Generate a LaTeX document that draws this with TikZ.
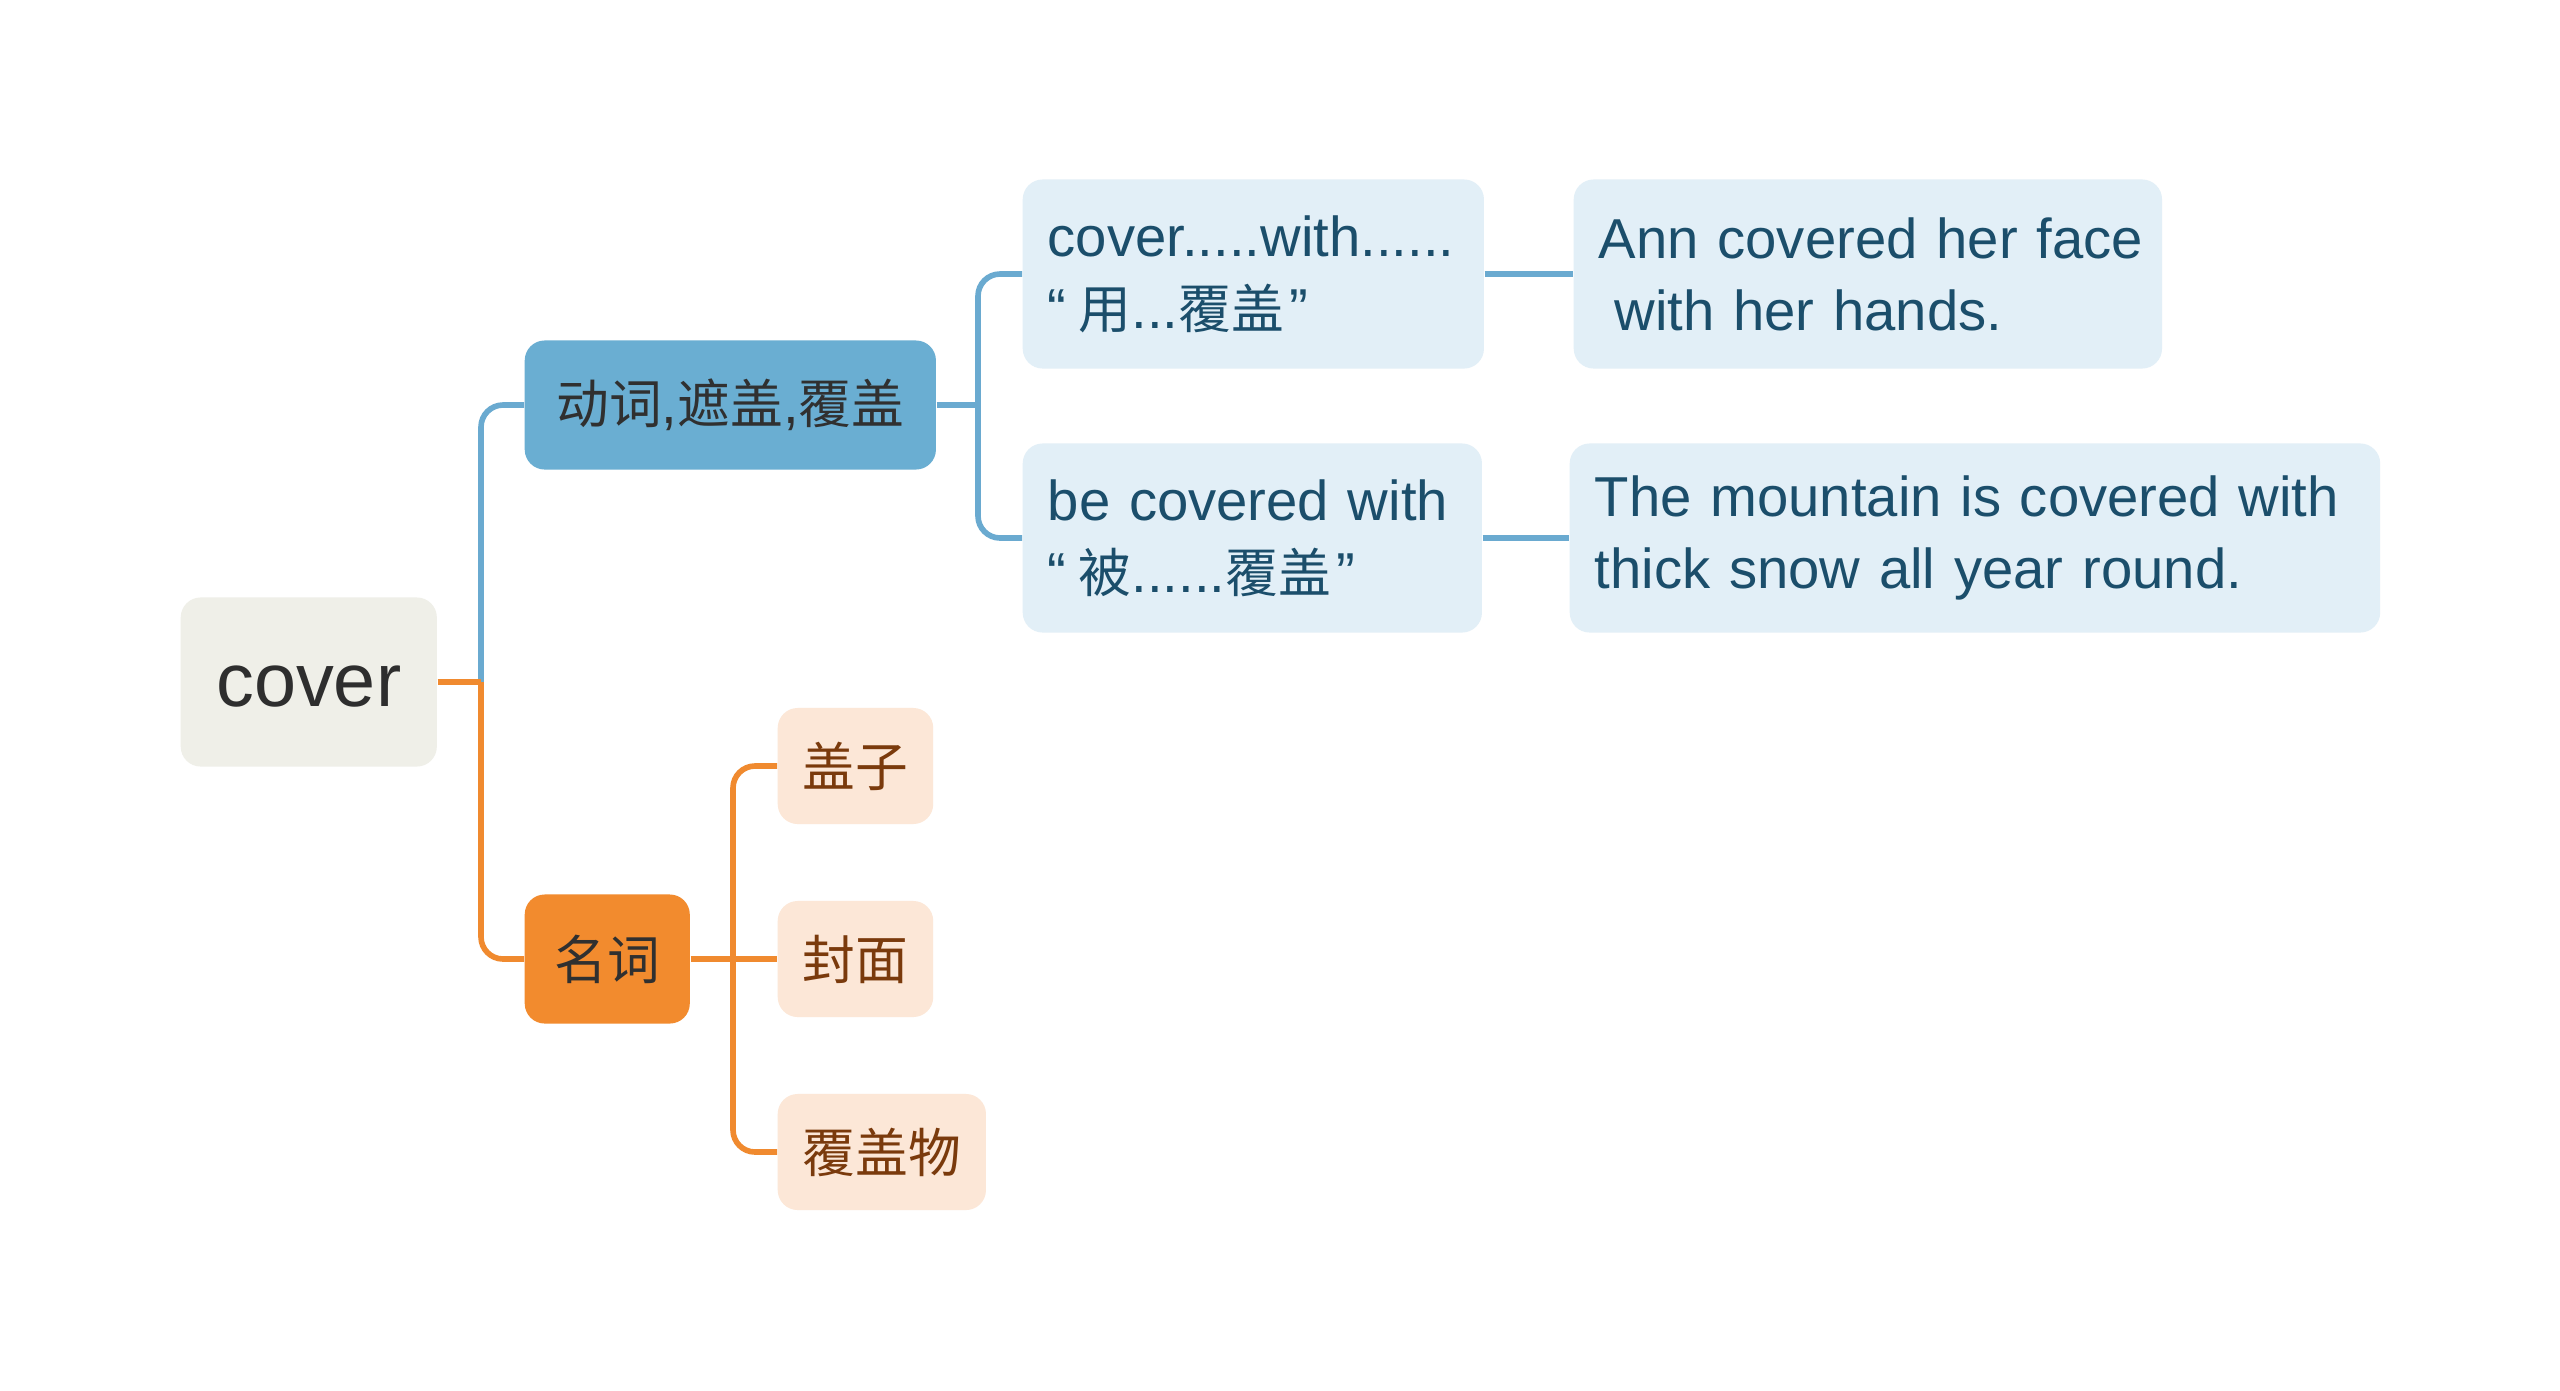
\documentclass[tikz,border=0pt]{standalone}
\usepackage{fontspec}
\setmainfont{Liberation Sans}
\newfontfamily\cjk{Noto Sans CJK SC}
\newcommand\zh[1]{{\cjk\fontsize{15}{20.5}\selectfont #1}}
\newcommand\oq{“\kern3.5pt}
\newcommand\cq{\kern1.5pt”}
\usetikzlibrary{calc,positioning}

\definecolor{rootfill}{HTML}{EFEFE8}
\definecolor{roottext}{HTML}{2E2E2E}
\definecolor{verbfill}{HTML}{6AAED2}
\definecolor{darktext}{HTML}{303030}
\definecolor{nounfill}{HTML}{F28B2E}
\definecolor{peach}{HTML}{FCE7D7}
\definecolor{leafbrown}{HTML}{7A3A0C}
\definecolor{lightblue}{HTML}{E2EFF7}
\definecolor{navy}{HTML}{1B4E6B}
\definecolor{bluel}{HTML}{6AAAD0}
\definecolor{orangel}{HTML}{F08A2F}

\begin{document}
\begin{tikzpicture}[x=0.01cm, y=-0.01cm,
  box/.style={rounded corners=0.2cm, inner xsep=0.25cm, inner ysep=0pt, anchor=west,
    font=\fontsize{16}{20.5}\selectfont},
  rootbox/.style={box, fill=rootfill, text=roottext, minimum width=2.56cm, minimum height=1.69cm,
    align=center, text height=14pt, font=\fontsize{21.5}{24}\selectfont},
  verbbox/.style={box, fill=verbfill, text=darktext, minimum width=4.11cm, minimum height=1.29cm},
  nounbox/.style={box, fill=nounfill, text=darktext, minimum width=1.65cm, minimum height=1.29cm},
  leafn/.style={box, fill=peach, text=leafbrown, minimum height=1.16cm},
  leafv/.style={box, fill=lightblue, text=navy, minimum height=1.89cm, align=left},
  bline/.style={draw=bluel, line width=1.6pt, rounded corners=0.22cm},
  oline/.style={draw=orangel, line width=1.6pt, rounded corners=0.22cm}]

  % background / page size
  \path[fill=white] (0,0) rectangle (2560,1390);

  % === root ===
  \node[rootbox] (root) at (180,682) {cover};

  % === first level ===
  \node[verbbox] (verb) at (524,405) {\zh{动词},\zh{遮盖},\zh{覆盖}};
  \node[nounbox] (noun) at (524,959) {\zh{名词}};

  % === verb branch ===
  \node[leafv, text width=4.11cm] (with) at (1022,274)
    {\mbox{cover.....with......}\\\oq\zh{用}...\zh{覆盖}\cq};
  \node[leafv, text width=4.09cm] (bewith) at (1022,538)
    {\mbox{be covered with}\\\oq\zh{被}......\zh{覆盖}\cq};
  \node[leafv, text width=5.38cm] (ann) at (1573,274)
    {\mbox{Ann covered her face}\\\hspace*{4.5pt}\mbox{with her hands.}};
  \node[leafv, text width=7.60cm] (mount) at (1569,538)
    {\mbox{The mountain is covered with}\\\mbox{thick snow all year round.}};

  % === noun branch ===
  \node[leafn, minimum width=1.54cm] (lid)   at (777,766)  {\zh{盖子}};
  \node[leafn, minimum width=1.54cm] (front) at (777,959)  {\zh{封面}};
  \node[leafn, minimum width=2.08cm] (wrap)  at (777,1152) {\zh{覆盖物}};

  % --- connectors ---
  \coordinate (jr) at (481,682);
  \coordinate (jv) at (978,405);
  \coordinate (jn) at (733,959);

  \draw[bline] (jr) |- (verb.west);
  \draw[oline] (jr) |- (noun.west);
  \draw[oline] (root.east) -- (jr);

  \draw[bline] (verb.east) -- (jv);
  \draw[bline] (jv) |- (with.west);
  \draw[bline] (jv) |- (bewith.west);
  \draw[bline] (with.east) -- (ann.west);
  \draw[bline] (bewith.east) -- (mount.west);

  \draw[oline] (noun.east) -- (front.west);
  \draw[oline] (jn) |- (lid.west);
  \draw[oline] (jn) |- (wrap.west);
\end{tikzpicture}
\end{document}
